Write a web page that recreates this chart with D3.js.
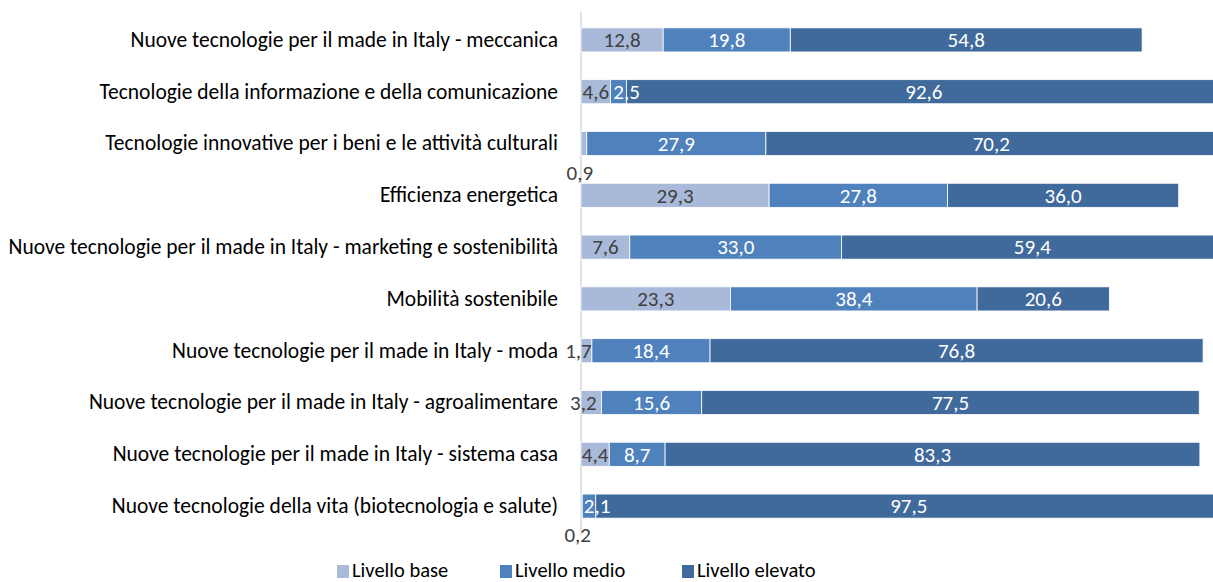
<!DOCTYPE html>
<html><head><meta charset="utf-8">
<script src="https://cdn.jsdelivr.net/npm/d3@7"></script>
<style>
html,body{margin:0;padding:0;background:#fff;}
svg{display:block;font-family:Carlito,"Liberation Sans",Arial,sans-serif;}
</style></head>
<body>
<svg id="chart" width="1213" height="582"></svg>
<script>
const categories = [
  "Nuove tecnologie per il made in Italy - meccanica",
  "Tecnologie della informazione e della comunicazione",
  "Tecnologie innovative per i beni e le attività culturali",
  "Efficienza energetica",
  "Nuove tecnologie per il made in Italy - marketing e sostenibilità",
  "Mobilità sostenibile",
  "Nuove tecnologie per il made in Italy - moda",
  "Nuove tecnologie per il made in Italy - agroalimentare",
  "Nuove tecnologie per il made in Italy - sistema casa",
  "Nuove tecnologie della vita (biotecnologia e salute)"
];
const seriesNames = ["Livello base", "Livello medio", "Livello elevato"];
const base    = [12.8, 4.6, 0.9, 29.3, 7.6, 23.3, 1.7, 3.2, 4.4, 0.2];
const medio   = [19.8, 2.5, 27.9, 27.8, 33.0, 38.4, 18.4, 15.6, 8.7, 2.1];
const elevato = [54.8, 92.6, 70.2, 36.0, 59.4, 20.6, 76.8, 77.5, 83.3, 97.5];
const colors = ["#A9B9D9", "#4F81BD", "#406A9B"];
const labelColors = ["#404040", "#ffffff", "#ffffff"];

const rows = categories.map((c, i) => ({cat: c, base: base[i], medio: medio[i], elevato: elevato[i]}));
const keys = ["base", "medio", "elevato"];
const stack = d3.stack().keys(keys)(rows);

const svg = d3.select("#chart");
const x = d3.scaleLinear().domain([0, 100]).range([581, 1223]);
const y = d3.scaleBand().domain(categories).range([14, 532]).paddingInner(0.535).paddingOuter(0.2675);

const fmt = v => v.toFixed(1).replace(".", ",");

// axis line (category axis), drawn beneath marks
svg.append("line").attr("x1", 581).attr("x2", 581).attr("y1", 12).attr("y2", 535)
  .attr("stroke", "#d9d9d9").attr("stroke-width", 1.5);

const g = svg.append("g");
stack.forEach((layer, li) => {
  const lg = g.append("g");
  lg.selectAll("rect").data(layer).join("rect")
    .attr("x", d => x(d[0]))
    .attr("y", d => y(d.data.cat))
    .attr("width", d => x(d[1]) - x(d[0]))
    .attr("height", y.bandwidth())
    .attr("fill", colors[li])
    .attr("stroke", "#ffffff")
    .attr("stroke-width", 0.8);
});
stack.forEach((layer, li) => {
  g.append("g").selectAll("text").data(layer).join("text")
    .attr("x", d => {
      const w = d[1]-d[0];
      const c = (x(d[0]) + x(d[1])) / 2;
      if (w < 1) return c - 4;
      if (li === 0 && w < 4) return c - 8;
      if (li === 1 && w < 3) return c + 8;
      return c;
    })
    .attr("y", d => (d[1]-d[0]) < 1 ? y(d.data.cat) + y.bandwidth() + 17 : y(d.data.cat) + y.bandwidth()/2)
    .attr("dy", "0.35em")
    .attr("text-anchor", "middle")
    .attr("font-size", 21)
    .attr("fill", d => (d[1]-d[0]) < 1 ? "#404040" : labelColors[li])
    .text(d => fmt(d[1]-d[0]));
});

const yAxis = d3.axisLeft(y).tickSize(0).tickPadding(0);
const ya = svg.append("g").attr("transform", "translate(558,0)").call(yAxis);
ya.select(".domain").remove();
ya.selectAll("text").attr("font-size", 21.5).attr("fill", "#000").attr("font-family", "Carlito,'Liberation Sans',Arial,sans-serif");

// legend
const legX = [337, 500, 682];
const leg = svg.append("g");
seriesNames.forEach((n, i) => {
  leg.append("rect").attr("x", legX[i]).attr("y", 565).attr("width", 12).attr("height", 13).attr("fill", colors[i]);
  leg.append("text").attr("x", legX[i] + 15).attr("y", 577)
    .attr("font-size", 20.5).attr("fill", "#000").text(n);
});
</script>
</body></html>
